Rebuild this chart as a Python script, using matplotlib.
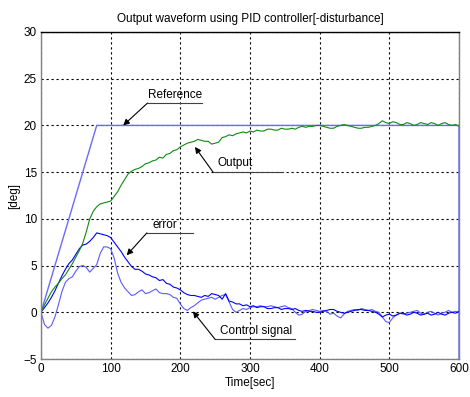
import numpy as np
import matplotlib
matplotlib.use("Agg")
import matplotlib.pyplot as plt

# time axis (sec), 5 s steps
t = np.arange(0, 601, 5)

# reference: ramp then hold, drops at the end of the run
ref_t = [0, 80, 600, 600]
ref_v = [0, 20, 20, -10]

output = [0, 0.8, 1.5, 2.2, 2.7, 3.1, 3.6, 4.0, 4.6, 5.2, 5.9, 6.6, 7.4, 8.6, 10.0, 10.8,
          11.3, 11.6, 11.7, 11.8, 11.9, 12.4, 12.9, 13.6, 14.2, 14.8, 15.1, 15.3, 15.4, 15.6,
          15.9, 16.0, 16.2, 16.3, 16.6, 16.5, 16.9, 17.0, 17.3, 17.4, 17.7, 17.9, 18.1, 18.2,
          18.3, 18.5, 18.4, 18.3, 18.3, 18.0, 18.1, 18.2, 18.7, 18.8, 19.0, 18.9, 19.1, 19.2,
          19.3, 19.2, 19.4, 19.3, 19.5, 19.4, 19.4, 19.6, 19.6, 19.5, 19.5, 19.7, 19.6, 19.6,
          19.7, 19.6, 19.8, 19.9, 19.8, 19.9, 19.9, 20.0, 20.0, 19.9, 19.8, 19.7, 19.7, 19.9,
          20.0, 20.1, 20.0, 19.9, 19.8, 19.7, 19.7, 19.8, 19.8, 19.9, 20.0, 20.2, 20.5, 20.3,
          20.2, 20.4, 20.3, 20.1, 20.1, 20.3, 20.2, 20.0, 20.1, 20.3, 20.2, 20.1, 20.3, 20.2,
          20.0, 20.2, 20.3, 20.1, 20.0, 20.1, 19.9]

error = [0, 0.5, 1.0, 1.6, 2.3, 3.1, 3.9, 4.6, 5.2, 5.6, 6.2, 6.8, 7.2, 7.3, 7.6, 8.0,
         8.5, 8.4, 8.3, 8.2, 8.0, 7.5, 7.0, 6.5, 5.9, 5.4, 4.9, 4.6, 4.6, 4.4, 4.1, 4.0,
         3.8, 3.7, 3.4, 3.5, 3.1, 3.0, 2.7, 2.6, 2.4, 2.1, 1.9, 1.8, 1.8, 1.7, 1.6, 1.8,
         1.7, 2.0, 1.9, 1.8, 1.4, 2.0, 1.2, 1.1, 0.9, 0.9, 0.7, 0.8, 0.6, 0.7, 0.5, 0.6,
         0.6, 0.4, 0.4, 0.5, 0.5, 0.3, 0.4, 0.4, 0.3, 0.4, 0.2, 0.1, 0.2, 0.1, 0.1, 0.0,
         0.0, 0.1, 0.2, 0.3, 0.3, 0.1, 0.0, -0.1, 0.0, 0.1, 0.2, 0.3, 0.3, 0.2, 0.2, 0.1,
         0.0, -0.2, -0.5, -0.3, -0.2, -0.4, -0.3, -0.1, -0.1, -0.3, -0.2, 0.0, -0.1, -0.3,
         -0.2, -0.1, -0.3, -0.2, 0.0, -0.2, -0.3, -0.1, 0.0, -0.1, 0.1]

control = [0, -1.3, -1.7, -1.4, -0.5, 0.8, 2.2, 3.2, 3.6, 3.8, 4.4, 4.9, 5.0, 4.8, 4.3, 4.7,
           5.1, 6.3, 7.0, 7.0, 6.8, 5.8, 4.2, 3.2, 2.6, 2.2, 1.8, 1.9, 2.2, 2.4, 2.0, 2.1,
           2.3, 2.5, 2.1, 2.0, 2.0, 1.9, 1.6, 1.5, 0.9, 0.4, 0.2, 0.5, 0.7, 1.0, 1.3, 1.4,
           1.5, 1.6, 1.4, 1.6, 1.8, 1.9, 1.1, 0.3, 0.0, 0.2, 0.4, 0.3, 0.5, 0.6, 0.6, 0.7,
           0.6, 0.6, 0.7, 0.6, 0.5, 0.6, 0.7, 0.5, 0.4, 0.0, -0.3, -0.2, 0.1, 0.2, 0.3, 0.2,
           0.1, 0.2, 0.1, -0.2, -0.1, -0.4, -0.6, -0.2, 0.1, 0.2, 0.3, 0.2, 0.4, 0.3, 0.2,
           0.3, 0.1, 0.0, -0.5, -1.0, -1.1, -0.6, -0.3, -0.1, -0.2, -0.1, 0.0, 0.1, 0.2,
           -0.1, -0.2, 0.0, 0.1, -0.1, -0.3, -0.1, 0.0, 0.2, 0.0, 0.1, 0.0]

plt.rcParams['font.family'] = ['Liberation Sans', 'DejaVu Sans']
plt.rcParams['font.size'] = 8.5

fig = plt.figure(figsize=(4.7, 3.97), dpi=100)
ax = fig.add_axes([0.0872, 0.0957, 0.8894, 0.8237])

ax.plot(ref_t, ref_v, color='#6a6aff', lw=1.0)
ax.plot(t, control, color='#5a5aff', lw=0.8)
ax.plot(t, error, color='#0000ff', lw=0.8)
ax.plot(t, output, color='#108a10', lw=0.8)

ax.set_xlim(0, 600)
ax.set_ylim(-5, 30)
ax.set_xticks(range(0, 601, 100))
ax.set_yticks(range(-5, 31, 5))
ax.grid(True, color='black', linestyle=(0, (2, 2.5)), linewidth=0.8)
ax.tick_params(direction='in', length=0, pad=3, colors='black')

for side in ['left', 'bottom', 'right']:
    ax.spines[side].set_color('#808080')
ax.spines['top'].set_color('black')
for s in ax.spines.values():
    s.set_linewidth(1.0)

ax.set_title('Output waveform using PID controller[-disturbance]', fontsize=8.5, pad=7)
ax.set_xlabel('Time[sec]', labelpad=1)
ax.set_ylabel('[deg]', labelpad=2)

# annotations: text above a short underline, with an arrow to the curve
notes = [
    # label, text x, text y, underline x0, x1, line y, arrow tip x, tip y
    ('Reference', 192, 23.3, 153, 231, 22.4, 118, 20.0),
    ('Output', 279, 16.0, 247, 347, 15.0, 221, 17.7),
    ('error', 178, 9.3, 152, 218, 8.5, 123, 6.1),
    ('Control signal', 309, -1.95, 250, 364, -2.9, 218, 0.1),
]
for label, tx, ty, x0, x1, ly, ax_, ay in notes:
    ax.text(tx, ty, label, ha='center', va='center', fontsize=8.5)
    ax.plot([x0, x1], [ly, ly], color='#404040', lw=0.8)
    ax.annotate('', xy=(ax_, ay), xytext=(x0, ly),
                arrowprops=dict(arrowstyle='-|>', color='black', lw=0.8,
                                mutation_scale=9, shrinkA=0, shrinkB=0))

fig.savefig('out.png', dpi=100)
